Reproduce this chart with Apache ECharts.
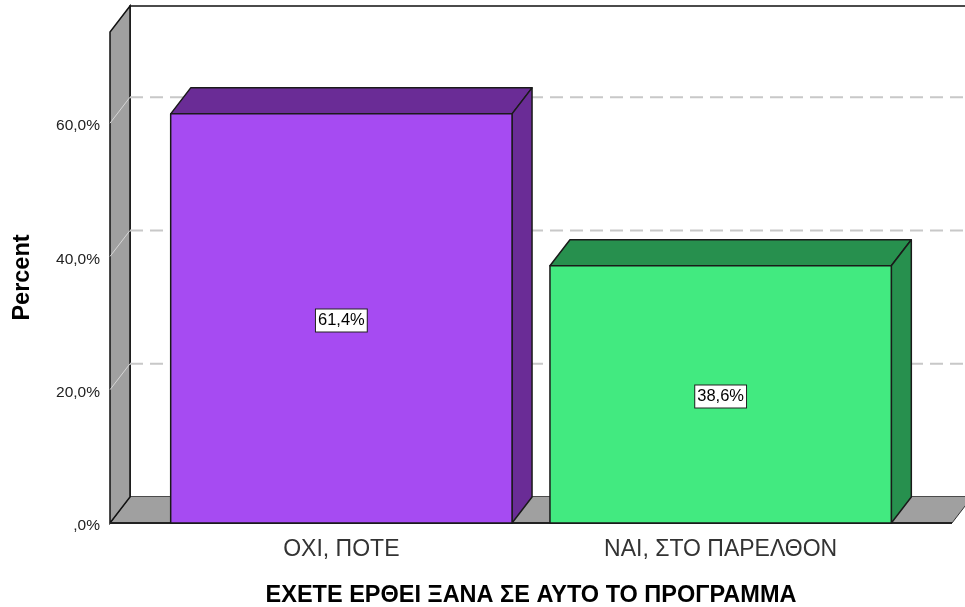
<!DOCTYPE html>
<html>
<head>
    <meta http-equiv="Content-Type" content="text/html; charset=utf-8" />
    <title></title>
    <style>
        html, body, #chart {
            height: 100%;
            width: 100%;
            margin: 0;
            padding: 0;
            overflow: hidden;
            background: #fff;
        }
    </style>
    <script src="https://cdn.jsdelivr.net/npm/echarts@6/dist/echarts.min.js"></script>
</head>
<body>
    <div id="chart"></div>
    <script>
        var categories = ['ΟΧΙ, ΠΟΤΕ', 'ΝΑΙ, ΣΤΟ ΠΑΡΕΛΘΟΝ'];
        var percents = [61.4, 38.6];
        var yTicks = [0, 20, 40, 60];
        var yMax = 73.68;
        var xMin = -0.61, xMax = 1.61;
        var barWidth = 0.9;

        var frontColors = ['#a64bf2', '#42ea80'];
        var darkColors = ['#6a2c96', '#27904e'];
        var DX = 20, DY = -26; // depth offset of the 3d look, px
        var font = 'Liberation Sans, Arial, sans-serif';

        function fmtPercent(v) {
            if (v === 0) return ',0%';
            return v.toFixed(1).replace('.', ',') + '%';
        }

        function back(p) {
            return [p[0] + DX, p[1] + DY];
        }

        function renderFrame(params, api) {
            var fl = api.coord([xMin, 0]);
            var fr = api.coord([xMax, 0]);
            var tl = api.coord([xMin, yMax]);
            var children = [];
            // back wall
            children.push({
                type: 'polygon',
                shape: { points: [back(tl), [back(fr)[0], back(tl)[1]], back(fr), back(fl)] },
                style: { fill: '#fff', stroke: '#111', lineWidth: 1.5 }
            });
            // floor
            children.push({
                type: 'polygon',
                shape: { points: [fl, back(fl), back(fr), fr] },
                style: { fill: '#a0a0a0' }
            });
            children.push({
                type: 'line',
                shape: { x1: fl[0], y1: fl[1], x2: back(fl)[0], y2: back(fl)[1] },
                style: { stroke: '#333', lineWidth: 1 }
            });
            children.push({
                type: 'line',
                shape: { x1: fr[0], y1: fr[1], x2: back(fr)[0], y2: back(fr)[1] },
                style: { stroke: '#333', lineWidth: 1 }
            });
            // left wall
            children.push({
                type: 'polygon',
                shape: { points: [fl, tl, back(tl), back(fl)] },
                style: { fill: '#a0a0a0', stroke: '#111', lineWidth: 1.5 }
            });
            // grid lines on the back wall
            yTicks.forEach(function (v) {
                if (v === 0) return;
                var a = api.coord([xMin, v]);
                var b = api.coord([xMax, v]);
                children.push({
                    type: 'line',
                    shape: { x1: a[0], y1: a[1], x2: a[0] + DX, y2: a[1] + DY },
                    style: { stroke: '#d6d6d6', lineWidth: 1 }
                });
                children.push({
                    type: 'line',
                    shape: { x1: a[0] + DX, y1: a[1] + DY, x2: b[0] + DX, y2: b[1] + DY },
                    style: { stroke: '#c8c8c8', lineWidth: 2, lineDash: [13, 7] }
                });
            });
            // front edge of floor
            children.push({
                type: 'line',
                shape: { x1: fl[0], y1: fl[1], x2: fr[0], y2: fr[1] },
                style: { stroke: '#222', lineWidth: 2 }
            });
            return { type: 'group', children: children };
        }

        function renderBar(params, api) {
            var x = api.value(0), v = api.value(1);
            var i = params.dataIndex;
            var lt = api.coord([x - barWidth / 2, v]);
            var rb = api.coord([x + barWidth / 2, 0]);
            var rt = [rb[0], lt[1]];
            var edge = { stroke: '#1a1a1a', lineWidth: 1.5, lineJoin: 'round' };
            return {
                type: 'group',
                children: [
                    {
                        type: 'polygon',
                        shape: { points: [lt, back(lt), back(rt), rt] },
                        style: Object.assign({ fill: darkColors[i] }, edge)
                    },
                    {
                        type: 'polygon',
                        shape: { points: [rt, back(rt), back(rb), rb] },
                        style: Object.assign({ fill: darkColors[i] }, edge)
                    },
                    {
                        type: 'rect',
                        shape: { x: lt[0], y: lt[1], width: rb[0] - lt[0], height: rb[1] - lt[1] },
                        style: Object.assign({ fill: frontColors[i] }, edge)
                    },
                    {
                        type: 'text',
                        x: (lt[0] + rb[0]) / 2,
                        y: (lt[1] + rb[1]) / 2 + 2,
                        style: {
                            text: fmtPercent(v),
                            align: 'center',
                            verticalAlign: 'middle',
                            fill: '#000',
                            fontSize: 16.5,
                            fontFamily: font,
                            backgroundColor: '#fff',
                            borderColor: '#222',
                            borderWidth: 1,
                            padding: [3, 2, 2, 2]
                        }
                    }
                ]
            };
        }

        var barData = percents.map(function (v, i) { return [i, v]; });

        var myChart = echarts.init(document.getElementById('chart'));
        var option = {
            animation: false,
            grid: { left: 110, right: 13, top: 32, bottom: 84, containLabel: false, outerBoundsMode: 'none' },
            xAxis: {
                type: 'value',
                min: xMin,
                max: xMax,
                name: 'ΕΧΕΤΕ ΕΡΘΕΙ ΞΑΝΑ ΣΕ ΑΥΤΟ ΤΟ ΠΡΟΓΡΑΜΜΑ',
                nameLocation: 'middle',
                nameGap: 61,
                nameTextStyle: { fontSize: 23.5, fontWeight: 'bold', color: '#000', fontFamily: font },
                axisLine: { show: false },
                axisTick: { show: false },
                splitLine: { show: false },
                axisLabel: {
                    customValues: [0, 1],
                    margin: 15,
                    fontSize: 23,
                    color: '#333',
                    fontFamily: font,
                    formatter: function (v) { return categories[Math.round(v)]; }
                }
            },
            yAxis: {
                type: 'value',
                min: 0,
                max: yMax,
                interval: 20,
                name: 'Percent',
                nameLocation: 'middle',
                nameGap: 75,
                nameTextStyle: { fontSize: 23.5, fontWeight: 'bold', color: '#000', fontFamily: font },
                axisLine: { show: false },
                axisTick: { show: false },
                splitLine: { show: false },
                axisLabel: {
                    margin: 10,
                    fontSize: 15.5,
                    color: '#222',
                    fontFamily: font,
                    verticalAlign: 'top',
                    lineHeight: 6,
                    formatter: function (v) {
                        if (v % 20 !== 0) return '';
                        return fmtPercent(v);
                    }
                }
            },
            series: [
                {
                    type: 'custom',
                    z: 1,
                    clip: false,
                    silent: true,
                    renderItem: renderFrame,
                    data: [[0, 0]]
                },
                {
                    type: 'custom',
                    z: 2,
                    clip: false,
                    renderItem: renderBar,
                    data: barData
                }
            ]
        };
        myChart.setOption(option);
    </script>
</body>
</html>
